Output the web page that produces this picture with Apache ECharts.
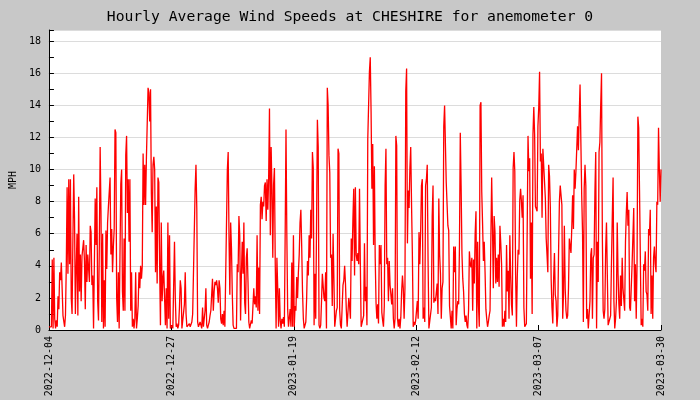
<!DOCTYPE html>
<html lang="en">
<head>
    <meta charset="UTF-8">
    <title>Hourly Average Wind Speeds at CHESHIRE</title>
    <script src="https://cdn.jsdelivr.net/npm/echarts@6/dist/echarts.min.js"></script>
    <style>
        html, body { margin: 0; padding: 0; background: #c8c8c8; }
        #main { width: 700px; height: 400px; }
    </style>
</head>
<body>
<div id="main"></div>
<script type="text/javascript">
// tick labels along the bottom (evenly spaced through the record)
var tickLabels = ['2022-12-04', '2022-12-27', '2023-01-19', '2023-02-12', '2023-03-07', '2023-03-30'];

// wind speed (MPH), roughly every 3.7 hours, early December to end of March
var windDec = [
    0.2, 0.1, 0.1, 0.2, 4.4, 0.1, 4.5, 0.7, 0.1, 0.6, 0.2, 2.1, 1.3, 3.6, 3.1, 4.2,
    4.2, 0.9, 0.8, 0.2, 0.9, 4.0, 8.9, 3.5, 9.4, 4.1, 9.4, 2.0, 1.0, 5.6, 9.7, 6.9,
    1.0, 3.8, 6.0, 0.9, 8.3, 2.4, 4.7, 1.8, 4.6, 5.1, 5.6, 4.3, 1.3, 5.3, 3.0, 4.7,
    4.7, 3.0, 6.5, 6.1, 2.8, 3.4, 0.1, 0.1, 8.2, 5.3, 8.9, 1.8, 0.6, 5.3, 11.4, 7.4,
    0.5, 6.0, 0.1, 3.1, 0.2, 6.2, 3.8, 6.7, 7.7, 8.6, 9.5, 4.7, 6.3, 3.6, 5.2, 6.3,
    12.5, 12.3, 2.0, 0.5, 3.6, 0.1, 0.2, 9.1, 10.0, 2.4, 1.2, 5.7, 1.2, 10.9, 12.1, 7.3,
    9.4, 5.5, 9.4, 1.2, 3.6, 0.2, 0.7, 0.1, 0.7, 3.6, 0.1, 0.7, 1.5, 3.6, 2.6, 4.0,
    3.2, 4.0, 11.0, 7.8, 10.3, 7.8, 10.7, 10.7, 15.1, 14.8, 13.0, 15.0, 8.5, 6.1,
    10.3, 10.8, 10.0, 3.6, 7.7, 2.9, 9.5, 9.2, 4.1, 0.3, 6.7, 1.8, 3.2, 3.7, 3.6, 0.3,
    2.6, 0.1, 6.7, 0.7, 5.9, 0.1, 0.2, 0.3, 0.1, 0.2, 5.5, 2.0, 0.2, 0.4, 0.1, 0.3,
    1.4, 3.1, 2.6, 0.1, 0.1, 0.2, 1.6, 3.6, 1.0, 0.2, 0.2, 0.3, 0.4, 0.2, 0.3, 0.5
];
var windJan = [
    1.0, 1.1, 1.1, 8.8, 10.3, 7.6, 0.5, 0.2, 0.2, 0.5, 0.3, 0.1, 1.4, 0.2, 0.1, 1.2,
    2.6, 0.3, 0.1, 0.3, 0.5, 0.9, 1.2, 1.2, 3.2, 1.2, 2.4, 3.0, 2.8, 3.1, 2.6, 1.7,
    3.1, 2.6, 0.7, 0.4, 1.0, 0.3, 1.2, 0.2, 0.1, 0.2, 10.0, 11.1, 5.8, 2.2, 6.7, 5.1,
    2.2, 0.3, 0.1, 0.2, 0.1, 0.1, 4.1, 3.6, 7.1, 5.9, 0.6, 3.5, 5.5, 3.5, 6.7, 1.7,
    1.0, 4.5, 5.1, 3.0, 0.5, 0.1, 0.1, 0.6, 0.4, 1.5, 2.6, 1.6, 2.1, 1.4,
    5.9, 1.2, 3.9, 1.0, 7.8, 8.3, 6.9, 8.0, 7.7, 9.0, 9.2, 6.8, 9.4, 7.5, 9.5, 13.8,
    5.9, 11.4, 8.8, 4.5, 9.1, 10.1, 4.1, 0.1, 4.5, 2.6, 0.2, 2.6, 0.6, 0.1, 0.7, 0.4,
    0.8, 0.2, 6.0, 12.5, 6.0, 1.3, 0.2, 0.1, 1.3, 0.2, 4.2, 0.2, 5.9, 0.2, 1.5, 1.2,
    3.3, 2.0, 3.6, 4.7, 6.7, 7.5, 5.2, 2.4, 0.7, 0.1, 0.2, 0.5, 2.0, 4.3, 3.4, 5.9,
    4.5, 7.5, 5.7, 11.1, 10.1, 0.3, 3.5, 0.7, 6.7, 13.1, 11.4, 0.3, 0.1, 0.3, 1.8, 3.5,
    3.6, 2.0, 1.8, 3.6, 0.1, 15.1, 14.0, 10.9, 9.8, 4.5, 4.7, 1.5, 6.0, 3.2, 0.2, 0.1
];
var windFeb = [
    1.2, 1.4, 11.3, 11.0, 1.2, 0.3, 0.1, 0.2, 2.8, 3.1, 4.0, 2.9, 1.3, 0.2, 0.1, 2.0,
    1.5, 0.7, 5.7, 4.3, 6.9, 8.8, 3.4, 8.9, 4.7, 4.3, 4.8, 4.1,
    8.8, 4.1, 0.2, 0.1, 0.1, 0.9, 5.4, 1.8, 2.7, 0.3, 11.9, 11.8, 16.1, 17.0, 13.6, 8.8,
    11.6, 5.3, 10.2, 4.5, 1.7, 0.7, 1.6, 0.4, 5.3, 4.1, 5.3, 1.1, 0.6, 0.2, 1.5, 9.0,
    11.3, 4.1, 4.5, 1.8, 4.3, 2.8, 2.8, 1.6, 2.6, 0.7, 0.1, 0.7, 12.1, 11.5, 0.7, 0.2,
    0.7, 0.1, 0.8, 2.4, 3.4, 2.6, 0.7, 2.6, 14.9, 16.3, 5.4, 8.7, 7.6, 10.1, 11.4, 7.8,
    4.7, 0.2, 0.5, 0.3, 0.6, 0.5, 1.8, 0.7, 6.1, 4.1, 6.1, 9.0, 9.4, 0.7, 1.4, 0.5,
    9.0, 9.4, 10.3, 4.3, 0.1, 0.2, 0.1, 1.4, 7.1, 9.0, 1.7, 2.0, 1.8, 1.8, 2.9, 1.0,
    8.2, 4.7, 3.5, 0.7, 2.6, 3.0, 12.7, 14.0, 14.0, 9.2, 9.2, 6.5, 6.2, 1.5, 1.5, 0.1,
    1.2, 0.1, 5.2, 3.6, 5.2, 0.3, 1.3, 1.8, 1.6, 5.2, 12.3, 9.0,
    4.8, 3.2, 2.4, 1.0, 0.5, 0.9, 0.3, 0.1, 1.2, 4.9, 4.1, 3.9, 4.5, 1.2, 4.4, 2.9,
    6.0, 7.4, 0.1, 5.5, 1.6, 0.2, 14.0, 14.2, 8.6, 6.6, 4.3, 5.5, 3.6, 1.3, 0.7, 0.2
];
var windMar = [
    0.5, 0.9, 1.2, 5.6, 9.5, 6.4, 2.6, 7.1, 6.1, 2.9, 4.5, 3.0, 4.7, 2.7, 6.5, 5.4,
    4.1, 0.2, 0.7, 0.2, 1.2, 0.5, 5.3, 2.4, 3.7, 0.7, 5.9, 3.4, 1.6, 0.9, 10.1, 11.1,
    9.9, 3.4, 0.2, 3.3, 5.0, 4.7, 8.1, 8.8, 8.0, 7.0, 8.4, 1.4, 0.2, 0.3, 0.4, 0.5,
    12.1, 9.9, 10.7, 3.2, 6.7, 1.0, 12.2, 13.9, 12.2, 7.7, 7.7, 7.4, 12.7, 13.9, 16.1, 10.5,
    11.0, 7.0, 11.3, 11.2, 11.4, 8.2, 5.7, 4.7, 3.6, 10.3, 9.6, 7.7, 3.2, 1.4, 0.4, 3.2,
    4.8, 2.2, 1.8, 0.2, 0.9, 4.9, 8.0, 9.0, 9.1, 7.8, 0.7, 2.3,
    6.5, 2.6, 1.2, 0.7, 0.9, 2.6, 5.7, 5.8, 4.8, 6.4, 8.4, 6.3, 10.0, 8.8, 9.9, 9.9,
    12.7, 11.2, 13.4, 15.3, 11.7, 8.4, 6.1, 0.5, 8.8, 10.3, 9.0, 0.7, 1.3, 0.1, 0.2, 1.8,
    4.7, 5.1, 0.7, 4.5, 4.7, 8.6, 11.1, 0.1, 5.5, 3.0, 11.1, 11.7, 14.0, 16.0, 5.8, 1.2,
    0.7, 1.3, 5.0, 6.7, 6.7, 0.3, 0.3, 0.7, 0.9, 4.1, 7.0, 9.5, 1.8, 0.1, 0.7, 1.8,
    6.7, 3.5, 1.6, 0.7, 3.4, 1.5, 4.5, 2.6, 2.6, 1.2, 5.5, 7.3, 8.6, 6.5, 7.5, 1.4,
    1.2, 1.2, 4.1, 4.1, 7.6, 1.8, 4.1, 0.7, 4.1, 13.3, 12.6, 8.7, 8.7, 0.3, 0.7, 0.2,
    4.1, 3.7, 4.9, 2.4, 2.2, 1.2, 6.3, 5.9, 7.5, 1.0, 3.4, 0.7, 4.5, 5.2, 4.1, 3.6,
    8.0, 7.8, 12.6, 10.0, 8.0, 10.0
];

var windSpeed = windDec.concat(windJan, windFeb, windMar);
var lastIndex = windSpeed.length - 1;
var labelStep = lastIndex / (tickLabels.length - 1);

var seriesData = windSpeed.map(function (v, i) { return [i, v]; });

var monoFont = 'DejaVu Sans Mono';

var myChart = echarts.init(document.getElementById('main'));

var option = {
    animation: false,
    backgroundColor: '#c8c8c8',
    title: {
        text: 'Hourly Average Wind Speeds at CHESHIRE for anemometer 0',
        left: 'center',
        top: 5,
        textStyle: { fontFamily: monoFont, fontSize: 14.7, fontWeight: 'normal', color: '#000' }
    },
    grid: { left: 40, right: 39, top: 30, bottom: 70, show: true, backgroundColor: '#fff', borderWidth: 0 },
    xAxis: {
        type: 'value',
        min: 0,
        max: lastIndex,
        interval: labelStep,
        axisLine: { lineStyle: { color: '#000', width: 1 } },
        axisTick: { inside: true, length: 5, lineStyle: { color: '#000' } },
        splitLine: { show: false },
        axisLabel: {
            rotate: 90,
            margin: 6,
            color: '#000',
            fontFamily: monoFont,
            fontSize: 10,
            formatter: function (v) { return tickLabels[Math.round(v / labelStep)] || ''; }
        }
    },
    yAxis: {
        type: 'value',
        min: 0,
        max: 18.7,
        interval: 2,
        name: 'MPH',
        nameLocation: 'middle',
        nameRotate: 90,
        nameGap: 28,
        nameTextStyle: { fontFamily: monoFont, fontSize: 10, color: '#000' },
        axisLine: { show: true, lineStyle: { color: '#000', width: 1 } },
        axisTick: { show: true, inside: true, length: 5, lineStyle: { color: '#000' } },
        minorTick: { show: true, splitNumber: 2, length: 5, lineStyle: { color: '#000' } },
        splitLine: { show: true, lineStyle: { color: '#dcdcdc', width: 1 } },
        axisLabel: {
            margin: 8,
            color: '#000',
            fontFamily: monoFont,
            fontSize: 10,
            formatter: function (v) { return v % 2 === 0 ? String(v) : ''; }
        }
    },
    series: [
        {
            name: 'wind',
            type: 'line',
            data: seriesData,
            showSymbol: false,
            lineStyle: { color: '#ff0000', width: 1.3 },
            itemStyle: { color: '#ff0000' }
        }
    ]
};

myChart.setOption(option);
</script>
</body>
</html>
